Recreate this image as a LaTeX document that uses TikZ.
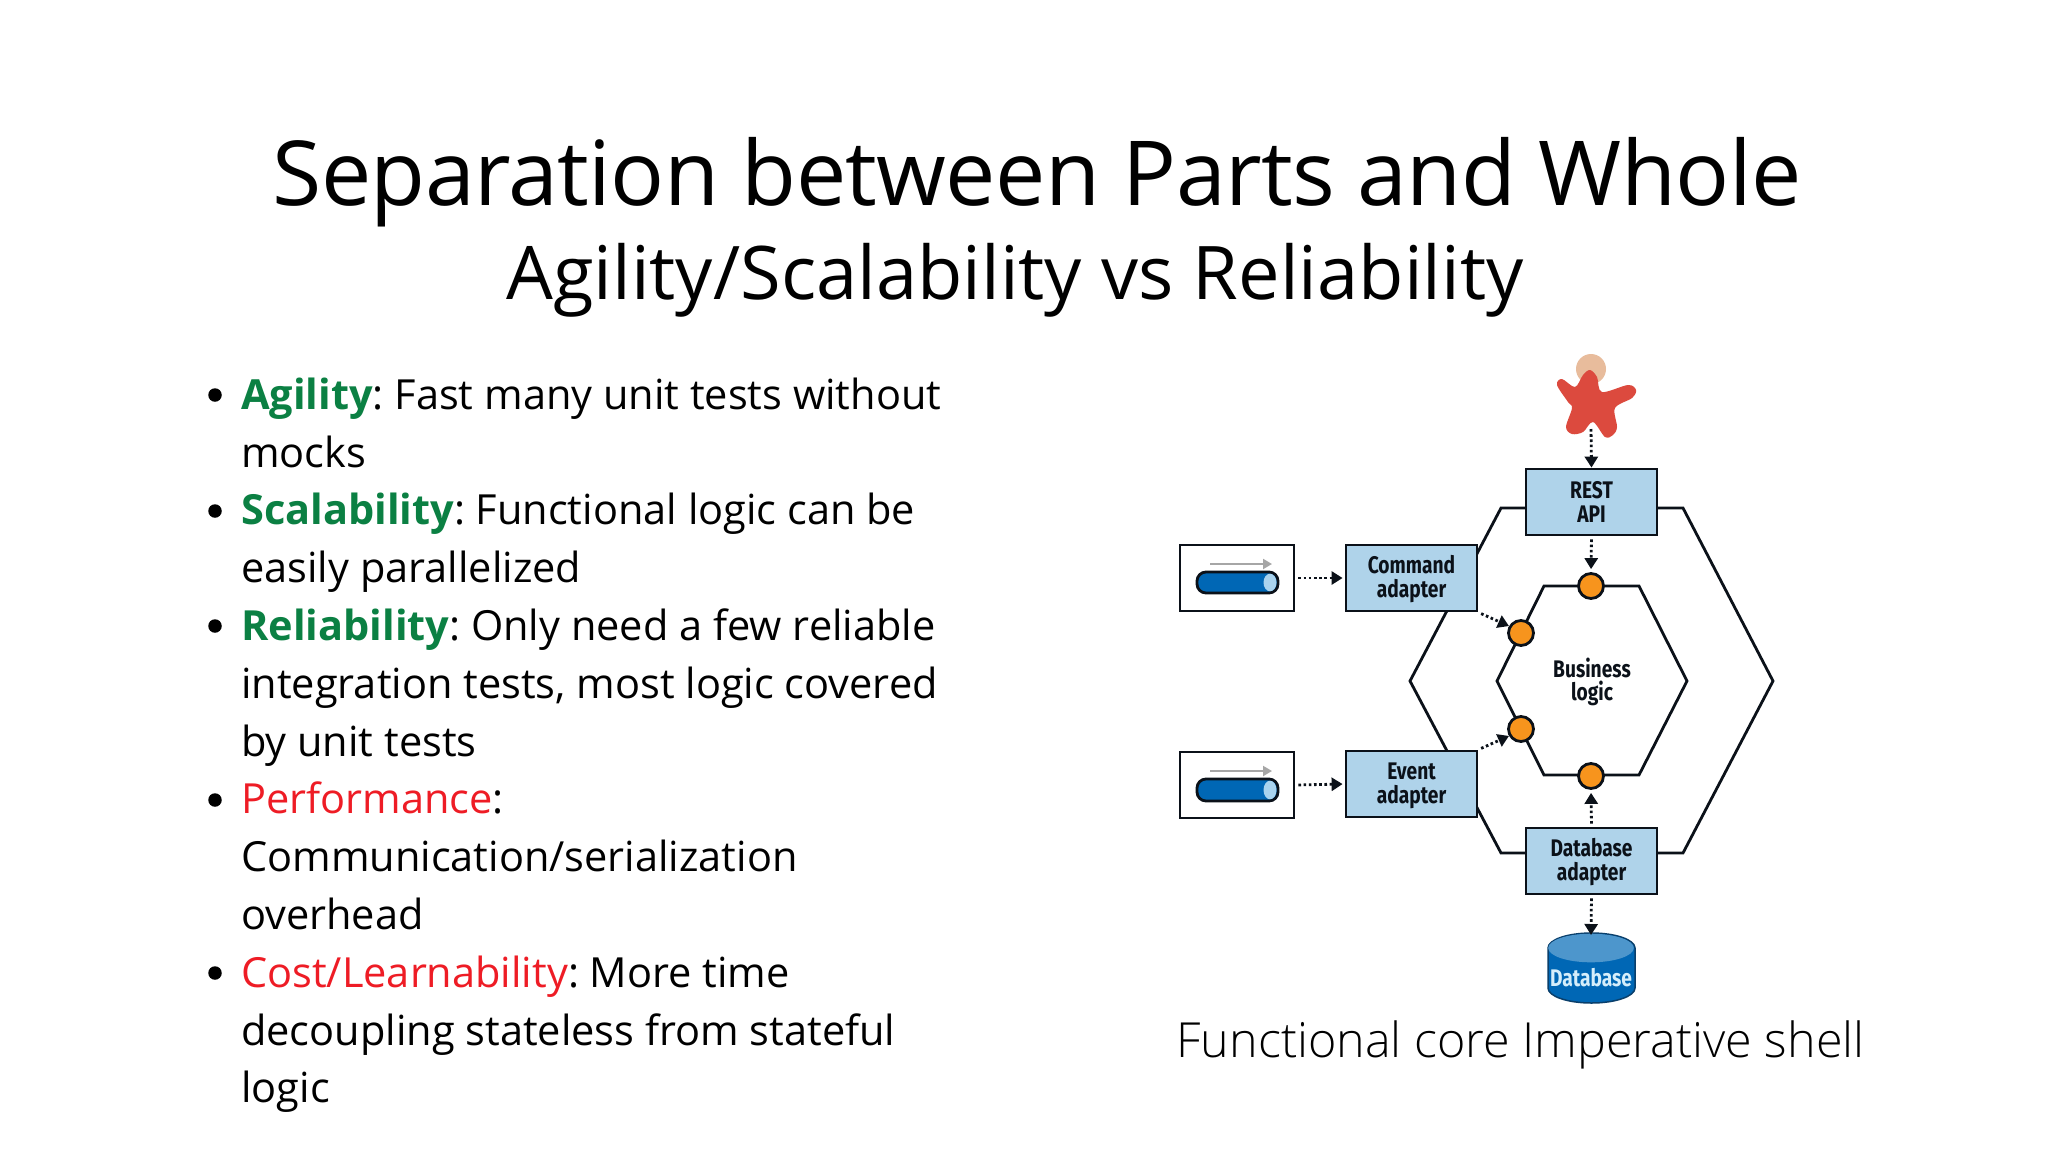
\documentclass[tikz,border=0pt]{standalone}
\usepackage{fontspec}
\usetikzlibrary{arrows.meta,shapes.geometric}
\setmainfont{Open Sans}
\newfontfamily\titlefont[LetterSpace=-0.75]{Open Sans}
\newfontfamily\subfont{Open Sans}
\newfontfamily\capfont{Open Sans Light}
\newfontfamily\condfont[FakeStretch=0.8]{Fira Sans}
\newcommand{\lowerfirst}{\rule{0pt}{20pt}}
\definecolor{goodgreen}{HTML}{0B8043}
\definecolor{badred}{HTML}{EE1C25}
\definecolor{boxblue}{HTML}{AFD3EA}
\definecolor{dotorange}{HTML}{F7941D}
\definecolor{inkdark}{HTML}{0B1119}
\definecolor{pillblue}{HTML}{0067B5}
\definecolor{pillend}{HTML}{A9D3EE}
\definecolor{dbtop}{HTML}{4D96CC}
\definecolor{dbedge}{HTML}{0A3F6B}
\definecolor{dbtext}{HTML}{D5EEFB}
\definecolor{starred}{HTML}{DC4A3E}
\definecolor{headskin}{HTML}{E8BC9C}
\tikzset{
  lined/.style={anchor=base west,inner sep=0pt,font=\frenchspacing\fontsize{41.5}{41.5}\selectfont,text=black},
  bulletdot/.style={circle,fill=black,inner sep=0pt,minimum size=13.5pt},
  comp/.style={draw=inkdark,line width=2.8pt,fill=boxblue,inner sep=0pt,align=center,text=inkdark,
    minimum width=131pt,minimum height=66pt,
    font=\fontsize{24}{23.5}\selectfont\condfont\bfseries},
  srcbox/.style={draw=inkdark,line width=2.8pt,fill=white,inner sep=0pt,minimum width=114pt,minimum height=66pt},
  port/.style={circle,draw=inkdark,line width=2.8pt,fill=dotorange,inner sep=0pt,minimum size=25pt},
  hexline/.style={draw=inkdark,line width=2.8pt,line join=miter},
  dotarrow/.style={draw=inkdark,line width=2.8pt,dash pattern=on 2.6pt off 2.6pt,
    -{Triangle[length=11pt,width=13pt]}},
  grayarrow/.style={draw=black!35,line width=2pt,-{Triangle[length=9pt,width=10pt]}},
  pill/.style={draw=inkdark,line width=2.8pt,fill=pillblue,rounded corners=9pt}
}
\begin{document}
\begin{tikzpicture}[x=1pt,y=-1pt]
\useasboundingbox (0,0) rectangle (2048,1152);
\fill[white] (0,0) rectangle (2048,1152);
% titles
\node[inner sep=0pt,anchor=base,font=\fontsize{89.7}{90}\selectfont\titlefont] (title) at (1037,205) {Separation between Parts and Whole};
\node[inner sep=0pt,anchor=base,font=\fontsize{74}{74}\selectfont\subfont] (subtitle) at (1015,299) {Agility/Scalability vs Reliability};
\node[inner sep=0pt,anchor=base,font=\fontsize{48.4}{48.4}\selectfont\capfont] (caption) at (1520.5,1057.5) {Functional core Imperative shell};
% bullet list
\node[bulletdot] (b1) at (215,395) {};
\node[bulletdot] (b2) at (215,511) {};
\node[bulletdot] (b3) at (215,626) {};
\node[bulletdot] (b4) at (215,800) {};
\node[bulletdot] (b5) at (215,973) {};
\node[lined] (l1) at (241,409.3) {\textcolor{goodgreen}{\bfseries Agility}: Fast many unit tests without};
\node[lined] (l2) at (241,467.1) {mocks};
\node[lined] (l3) at (241,524.9) {\textcolor{goodgreen}{\bfseries Scalability}: Functional logic can be};
\node[lined] (l4) at (241,582.7) {easily parallelized};
\node[lined] (l5) at (241,640.5) {\textcolor{goodgreen}{\bfseries Reliability}: Only need a few reliable};
\node[lined] (l6) at (241,698.3) {integration tests, most logic covered};
\node[lined] (l7) at (241,756.1) {by unit tests};
\node[lined] (l8) at (241,813.9) {\textcolor{badred}{Performance}:};
\node[lined] (l9) at (241,871.7) {Communication/serialization};
\node[lined] (l10) at (241,929.5) {overhead};
\node[lined] (l11) at (241,987.3) {\textcolor{badred}{Cost/Learnability}: More time};
\node[lined] (l12) at (241,1045.1) {decoupling stateless from stateful};
\node[lined] (l13) at (241,1102.9) {logic};
% hexagons
\draw[hexline] (1501,508) -- (1683,508) -- (1773,681) -- (1683,853) -- (1501,853) -- (1410,681) -- cycle;
\draw[hexline] (1544,586) -- (1639,586) -- (1687,681) -- (1639,775) -- (1544,775) -- (1497,681) -- cycle;
\node[inkdark,inner sep=0pt,align=center,font=\fontsize{24}{23.5}\selectfont\condfont\bfseries] (core) at (1592,682) {Business\\logic};
% actor
\fill[headskin] (1591,369) circle (15);
\fill[starred] plot[smooth cycle,tension=.55] coordinates {(1590,370) (1597,377) (1602,392) (1628,385) (1636,390) (1632,398) (1615,408) (1617,427) (1613,435) (1605,437) (1593,422) (1583,432) (1572,434) (1566,427) (1572,408) (1568,402) (1557,385) (1562,379) (1575,387) (1583,375)};
\coordinate (actorfoot) at (1591,429);
% components
\node[comp] (rest) at (1591.5,502) {REST\\API};
\node[comp] (cmd) at (1411.5,578) {\lowerfirst Command\\adapter};
\node[comp] (evt) at (1411.5,784) {\lowerfirst Event\\adapter};
\node[comp] (dba) at (1591.5,861) {\lowerfirst Database\\adapter};
% sources
\node[srcbox] (src1) at (1237,578) {};
\node[srcbox] (src2) at (1237,785) {};
\draw[pill] (1197,572) rectangle (1278,593);
\fill[pillend] (1270,582.5) ellipse[x radius=6.5,y radius=8.8];
\draw[grayarrow] (1210,564) -- (1272,564);
\draw[pill] (1197,779) rectangle (1278,801);
\fill[pillend] (1270,790) ellipse[x radius=6.5,y radius=9.3];
\draw[grayarrow] (1210,771) -- (1272,771);
% ports
\node[port] (ptop) at (1591,586) {};
\node[port] (pbot) at (1591,776) {};
\node[port] (pul) at (1521,633) {};
\node[port] (pll) at (1521,729) {};
% database
\fill[pillblue,draw=dbedge,line width=1.5pt] (1548,948) -- (1548,988) arc[start angle=180,end angle=0,x radius=43.5,y radius=15] -- (1635,948) arc[start angle=0,end angle=-180,x radius=43.5,y radius=15] -- cycle;
\fill[dbtop] (1591,948) ellipse[x radius=42.8,y radius=14.3];
\node[inner sep=0pt,text=dbtext,font=\fontsize{24}{24}\selectfont\condfont\bfseries] (db) at (1591,978) {Database};
\coordinate (dbtopc) at (1591,935);
% connectors
\draw[dotarrow] (actorfoot) -- (rest.north);
\draw[dotarrow,shorten <=3pt,shorten >=3pt] (rest.south) -- (ptop.north);
\draw[dotarrow,shorten <=3pt,shorten >=2pt] (src1.east) -- (cmd.west);
\draw[dotarrow,shorten <=3pt,shorten >=2pt] (src2.east) -- (evt.west);
\draw[dotarrow,shorten <=3pt] (cmd.south east) -- (pul.150);
\draw[dotarrow,shorten <=3pt] (evt.north east) -- (pll.210);
\draw[dotarrow,shorten <=3pt,shorten >=3pt] (dba.north) -- (pbot.south);
\draw[dotarrow,shorten <=3pt] (dba.south) -- (dbtopc);
\end{tikzpicture}
\end{document}
